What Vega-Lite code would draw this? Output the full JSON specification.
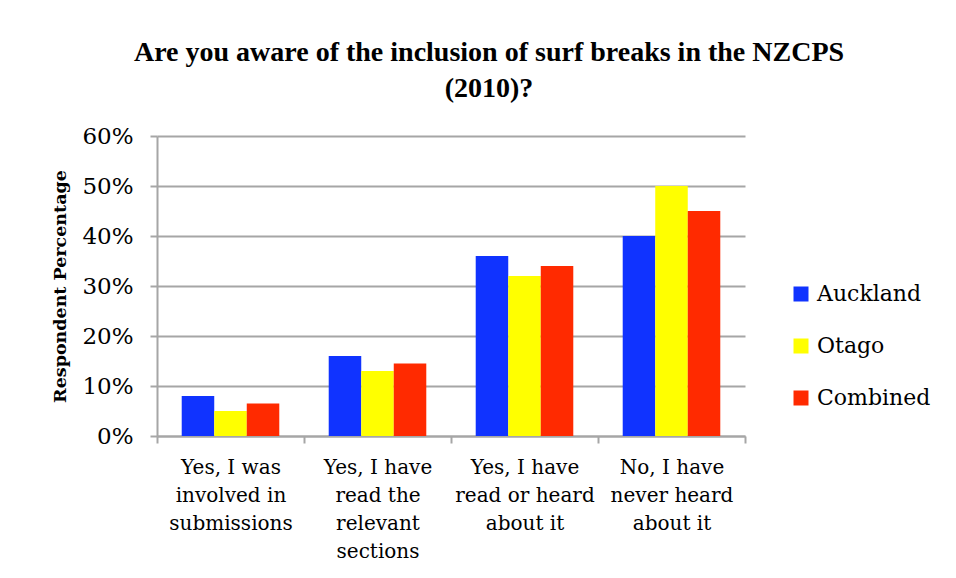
{
  "$schema": "https://vega.github.io/schema/vega-lite/v6.json",
  "width": 588,
  "height": 300,
  "autosize": {"type": "none"},
  "padding": {"left": 157, "top": 136, "right": 211, "bottom": 142},
  "background": "white",
  "title": {
    "text": ["Are you aware of the inclusion of surf breaks in the NZCPS", "(2010)?"],
    "font": "Liberation Serif",
    "fontWeight": "bold",
    "fontSize": 28,
    "lineHeight": 36,
    "color": "black",
    "anchor": "middle",
    "dx": 38,
    "offset": 22
  },
  "data": {
    "values": [
      {"category": "Yes, I was\ninvolved in\nsubmissions", "region": "Auckland", "value": 0.08},
      {"category": "Yes, I was\ninvolved in\nsubmissions", "region": "Otago", "value": 0.05},
      {"category": "Yes, I was\ninvolved in\nsubmissions", "region": "Combined", "value": 0.065},
      {"category": "Yes, I have\nread the\nrelevant\nsections", "region": "Auckland", "value": 0.16},
      {"category": "Yes, I have\nread the\nrelevant\nsections", "region": "Otago", "value": 0.13},
      {"category": "Yes, I have\nread the\nrelevant\nsections", "region": "Combined", "value": 0.145},
      {"category": "Yes, I have\nread or heard\nabout it", "region": "Auckland", "value": 0.36},
      {"category": "Yes, I have\nread or heard\nabout it", "region": "Otago", "value": 0.32},
      {"category": "Yes, I have\nread or heard\nabout it", "region": "Combined", "value": 0.34},
      {"category": "No, I have\nnever heard\nabout it", "region": "Auckland", "value": 0.40},
      {"category": "No, I have\nnever heard\nabout it", "region": "Otago", "value": 0.50},
      {"category": "No, I have\nnever heard\nabout it", "region": "Combined", "value": 0.45}
    ]
  },
  "mark": {"type": "bar"},
  "encoding": {
    "x": {
      "field": "category",
      "type": "nominal",
      "sort": null,
      "scale": {"paddingInner": 0, "paddingOuter": 0},
      "axis": {
        "title": null,
        "labelAngle": 0,
        "labelExpr": "split(datum.label, '\\n')",
        "labelFont": "DejaVu Serif",
        "labelFontSize": 20,
        "labelLineHeight": 28,
        "labelColor": "black",
        "labelPadding": 14,
        "labelBaseline": "top",
        "tickBand": "extent",
        "tickSize": 7,
        "tickWidth": 2,
        "tickColor": "#A6A6A6",
        "domainColor": "#A6A6A6",
        "domainWidth": 2
      }
    },
    "xOffset": {
      "field": "region",
      "type": "nominal",
      "sort": ["Auckland", "Otago", "Combined"],
      "scale": {"paddingInner": 0, "paddingOuter": 0.76}
    },
    "y": {
      "field": "value",
      "type": "quantitative",
      "scale": {"domain": [0, 0.6], "nice": false},
      "axis": {
        "title": "Respondent Percentage",
        "titleFont": "DejaVu Serif",
        "titleFontWeight": "bold",
        "titleFontSize": 17.5,
        "titleColor": "black",
        "titlePadding": 12,
        "format": ".0%",
        "values": [0, 0.1, 0.2, 0.3, 0.4, 0.5, 0.6],
        "labelFont": "DejaVu Serif",
        "labelFontSize": 23,
        "labelColor": "black",
        "labelPadding": 17,
        "tickSize": 7,
        "tickWidth": 2,
        "tickColor": "#A6A6A6",
        "domainColor": "#A6A6A6",
        "domainWidth": 2,
        "grid": true,
        "gridColor": "#A6A6A6",
        "gridWidth": 2
      }
    },
    "color": {
      "field": "region",
      "type": "nominal",
      "sort": ["Auckland", "Otago", "Combined"],
      "scale": {"domain": ["Auckland", "Otago", "Combined"], "range": ["#1033FF", "#FFFF00", "#FF2A00"]},
      "legend": {
        "title": null,
        "orient": "none",
        "legendX": 633,
        "legendY": 147,
        "symbolType": "square",
        "symbolSize": 225,
        "symbolStrokeWidth": 0,
        "labelFont": "DejaVu Serif",
        "labelFontSize": 22,
        "labelColor": "black",
        "labelOffset": 5,
        "rowPadding": 30
      }
    }
  },
  "config": {"view": {"stroke": null}}
}
